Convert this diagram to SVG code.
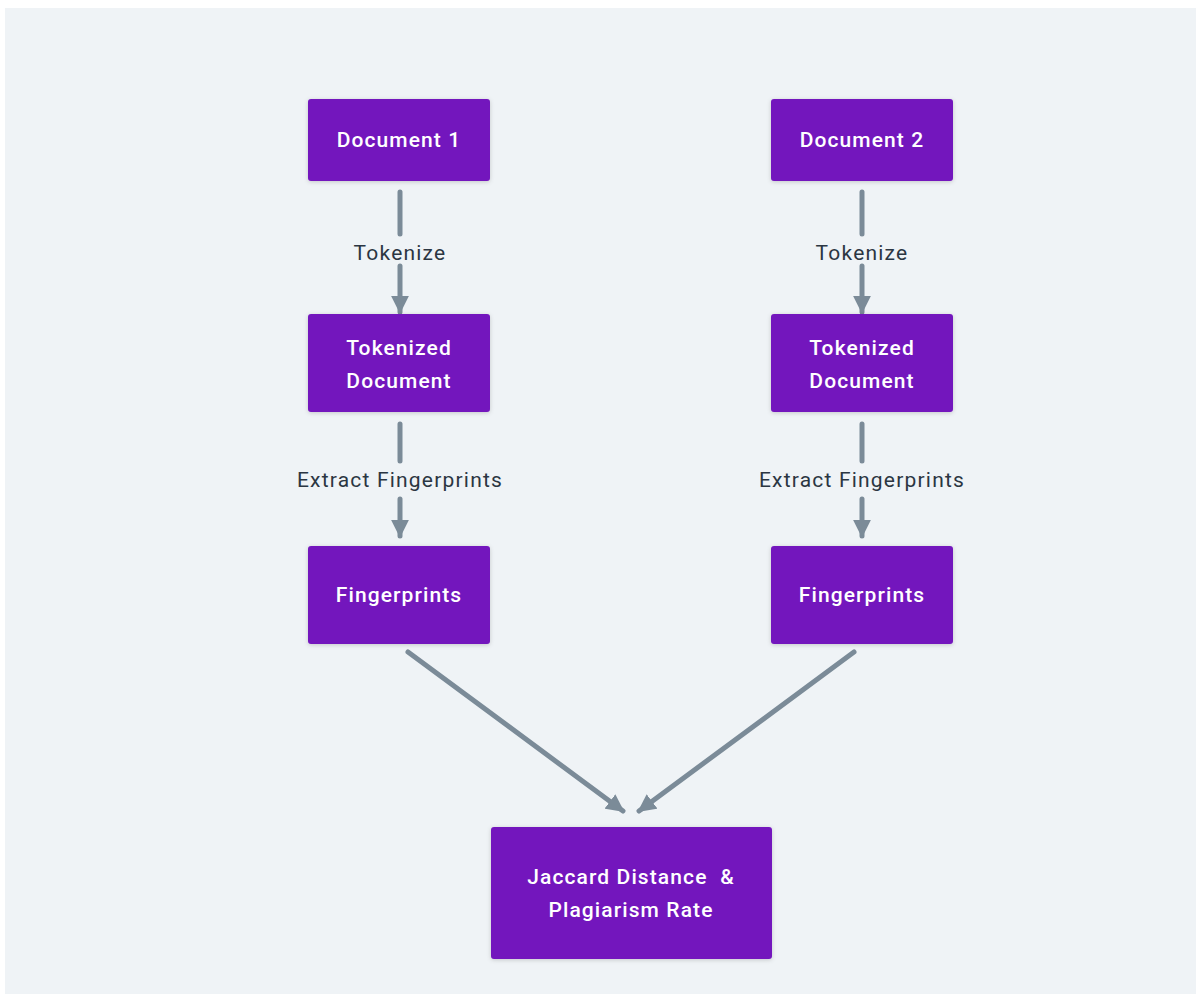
<svg xmlns="http://www.w3.org/2000/svg" width="1201" height="994" viewBox="0 0 1201 994">
<style>
.node rect{fill:#7318BD;}
.node text{fill:#ffffff;font-family:Roboto,"Liberation Sans",sans-serif;font-size:21px;font-weight:500;letter-spacing:1.1px;text-anchor:middle;}
.lbl{fill:#2B3642;font-family:Roboto,"Liberation Sans",sans-serif;font-size:21px;letter-spacing:1.2px;text-anchor:middle;}
.edge{stroke:#7B8B98;stroke-width:5;stroke-linecap:round;fill:none;}
</style>
<defs>
<filter id="sh" x="-10%" y="-10%" width="120%" height="130%">
<feDropShadow dx="0" dy="1" stdDeviation="2" flood-color="#000" flood-opacity="0.18"/>
</filter>
<marker id="ah" viewBox="0 0 10 10" refX="9" refY="5" markerWidth="3.6" markerHeight="3.6" orient="auto" markerUnits="strokeWidth">
<path d="M0,0 L10,5 L0,10 z" fill="#7B8B98"/>
</marker>
</defs>
<rect x="0" y="0" width="1201" height="994" fill="#ffffff"/>
<rect x="5" y="8" width="1191" height="986" fill="#EFF3F6"/>

<g id="connectors">
<line class="edge" x1="400" y1="192" x2="400" y2="234"/>
<line class="edge" x1="400" y1="266" x2="400" y2="312" marker-end="url(#ah)"/>
<text class="lbl" x="400" y="260">Tokenize</text>
<line class="edge" x1="400" y1="424" x2="400" y2="461"/>
<line class="edge" x1="400" y1="499" x2="400" y2="536" marker-end="url(#ah)"/>
<text class="lbl" x="400" y="487">Extract Fingerprints</text>

<line class="edge" x1="862" y1="192" x2="862" y2="234"/>
<line class="edge" x1="862" y1="266" x2="862" y2="312" marker-end="url(#ah)"/>
<text class="lbl" x="862" y="260">Tokenize</text>
<line class="edge" x1="862" y1="424" x2="862" y2="461"/>
<line class="edge" x1="862" y1="499" x2="862" y2="536" marker-end="url(#ah)"/>
<text class="lbl" x="862" y="487">Extract Fingerprints</text>

<line class="edge" x1="408" y1="652" x2="623" y2="811" marker-end="url(#ah)"/>
<line class="edge" x1="854" y1="652" x2="639" y2="811" marker-end="url(#ah)"/>
</g>

<g id="doc1" class="node"><rect x="308" y="99" width="182" height="82" rx="3" filter="url(#sh)"/><text x="399" y="147">Document 1</text></g>
<g id="tok1" class="node"><rect x="308" y="314" width="182" height="98" rx="3" filter="url(#sh)"/><text x="399" y="355">Tokenized</text><text x="399" y="388">Document</text></g>
<g id="fp1" class="node"><rect x="308" y="546" width="182" height="98" rx="3" filter="url(#sh)"/><text x="399" y="602">Fingerprints</text></g>

<g id="doc2" class="node"><rect x="771" y="99" width="182" height="82" rx="3" filter="url(#sh)"/><text x="862" y="147">Document 2</text></g>
<g id="tok2" class="node"><rect x="771" y="314" width="182" height="98" rx="3" filter="url(#sh)"/><text x="862" y="355">Tokenized</text><text x="862" y="388">Document</text></g>
<g id="fp2" class="node"><rect x="771" y="546" width="182" height="98" rx="3" filter="url(#sh)"/><text x="862" y="602">Fingerprints</text></g>

<g id="result" class="node"><rect x="491" y="827" width="281" height="132" rx="3" filter="url(#sh)"/><text x="631" y="884" xml:space="preserve">Jaccard Distance  &amp;</text><text x="631" y="917">Plagiarism Rate</text></g>
</svg>
